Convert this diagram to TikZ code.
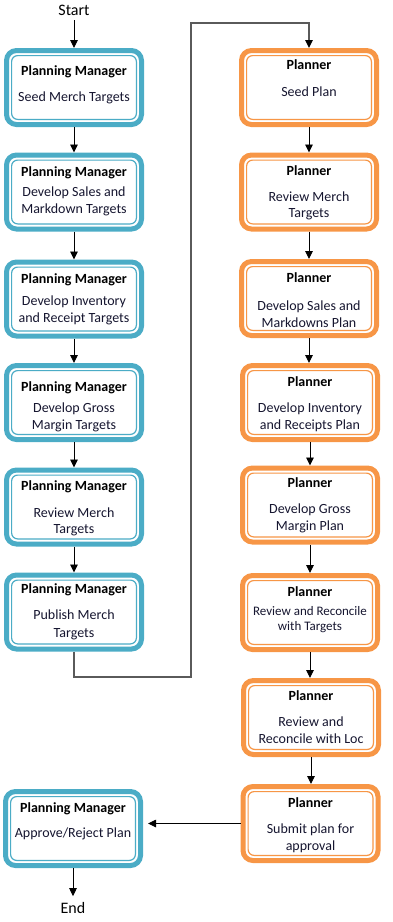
\documentclass[tikz,border=0pt]{standalone}
\usepackage{fontspec}
\setmainfont{Carlito}
\usetikzlibrary{arrows.meta}
\definecolor{pmblue}{HTML}{4BACC6}
\definecolor{plorange}{HTML}{F79646}
\definecolor{bodytxt}{RGB}{22,22,48}
\definecolor{conngray}{HTML}{5A5A5A}
\newcommand\innerline[2]{\draw[#2, line width=1.2pt, rounded corners=6pt] ([shift={(7.6pt,-7.6pt)}]#1.north west) rectangle ([shift={(-7.6pt,7.6pt)}]#1.south east);}
\tikzset{
  boxbase/.style={rectangle, line width=5pt, rounded corners=10pt, minimum width=135pt, minimum height=74pt, inner sep=0pt, outer sep=2.5pt, fill=white},
  lbox/.style={boxbase, draw=pmblue},
  rbox/.style={boxbase, draw=plorange},
  ttl/.style={anchor=base, inner sep=0pt, font=\fontsize{14}{17}\selectfont\bfseries, text=black},
  bd/.style={anchor=base, inner sep=0pt, font=\fontsize{14}{17}\selectfont, text=bodytxt},
  bds/.style={anchor=base, inner sep=0pt, font=\fontsize{13}{15}\selectfont, text=bodytxt},
  term/.style={inner sep=2pt, font=\fontsize{16}{19}\selectfont, text=black},
  arr/.style={draw=black, line width=0.9pt, -{Triangle[length=8pt,width=7.5pt]}},
  garr/.style={draw=conngray, line width=1.3pt, -{Triangle[length=8pt,width=7.5pt,fill=black,color=black]}}
}
\begin{document}
\begin{tikzpicture}[x=1pt,y=-1pt]
\useasboundingbox (0,0) rectangle (393,922);
% terminals
\node[term] (start) at (74,10) {Start};
\node[term] (end) at (73,908) {End};
% left column boxes
\node[lbox] (L1) at (74,87.5) {}; \innerline{L1}{pmblue}
\node[lbox] (L2) at (74,192) {}; \innerline{L2}{pmblue}
\node[lbox] (L3) at (74,299) {}; \innerline{L3}{pmblue}
\node[lbox] (L4) at (74,402.5) {}; \innerline{L4}{pmblue}
\node[lbox] (L5) at (74,507) {}; \innerline{L5}{pmblue}
\node[lbox] (L6) at (74,612) {}; \innerline{L6}{pmblue}
\node[lbox] (LF) at (73,828.5) {}; \innerline{LF}{pmblue}
% right column boxes
\node[rbox] (R1) at (309,87.5) {}; \innerline{R1}{plorange}
\node[rbox] (R2) at (309,192) {}; \innerline{R2}{plorange}
\node[rbox] (R3) at (309,298.5) {}; \innerline{R3}{plorange}
\node[rbox] (R4) at (310,402.5) {}; \innerline{R4}{plorange}
\node[rbox] (R5) at (310,505) {}; \innerline{R5}{plorange}
\node[rbox] (R6) at (310,612.5) {}; \innerline{R6}{plorange}
\node[rbox] (R7) at (311,717.5) {}; \innerline{R7}{plorange}
\node[rbox] (R8) at (310.5,823.5) {}; \innerline{R8}{plorange}
% left texts
\node[ttl] (L1t) at (74,75.5) {Planning Manager};
\node[bd] (L1a) at (74,101.5) {Seed Merch Targets};
\node[ttl] (L2t) at (74,176.5) {Planning Manager};
\node[bd] (L2a) at (74,196.5) {Develop Sales and};
\node[bd] (L2b) at (74,213.5) {Markdown Targets};
\node[ttl] (L3t) at (74,283.5) {Planning Manager};
\node[bd] (L3a) at (74,305.5) {Develop Inventory};
\node[bd] (L3b) at (74,322.5) {and Receipt Targets};
\node[ttl] (L4t) at (74,391.5) {Planning Manager};
\node[bd] (L4a) at (74,412.5) {Develop Gross};
\node[bd] (L4b) at (74,429.5) {Margin Targets};
\node[ttl] (L5t) at (74,490.5) {Planning Manager};
\node[bd] (L5a) at (74,517.5) {Review Merch};
\node[bd] (L5b) at (74,533.5) {Targets};
\node[ttl] (L6t) at (74,593.5) {Planning Manager};
\node[bd] (L6a) at (74,619.5) {Publish Merch};
\node[bd] (L6b) at (74,637.5) {Targets};
\node[ttl] (LFt) at (73,812.5) {Planning Manager};
\node[bd] (LFa) at (73,837.5) {Approve/Reject Plan};
% right texts
\node[ttl] (R1t) at (309,69.5) {Planner};
\node[bd] (R1a) at (309,96.5) {Seed Plan};
\node[ttl] (R2t) at (309,175.5) {Planner};
\node[bd] (R2a) at (309,201.5) {Review Merch};
\node[bd] (R2b) at (309,217.5) {Targets};
\node[ttl] (R3t) at (309,282.5) {Planner};
\node[bd] (R3a) at (309,310.5) {Develop Sales and};
\node[bd] (R3b) at (309,327.5) {Markdowns Plan};
\node[ttl] (R4t) at (310,386.5) {Planner};
\node[bd] (R4a) at (310,412.5) {Develop Inventory};
\node[bd] (R4b) at (310,429.5) {and Receipts Plan};
\node[ttl] (R5t) at (310,487.5) {Planner};
\node[bd] (R5a) at (310,513.5) {Develop Gross};
\node[bd] (R5b) at (310,530.5) {Margin Plan};
\node[ttl] (R6t) at (310,596.5) {Planner};
\node[bds] (R6a) at (310,615) {Review and Reconcile};
\node[bds] (R6b) at (310,630) {with Targets};
\node[ttl] (R7t) at (311,700.5) {Planner};
\node[bd] (R7a) at (311,726.5) {Review and};
\node[bd] (R7b) at (311,743.5) {Reconcile with Loc};
\node[ttl] (R8t) at (310.5,807.5) {Planner};
\node[bd] (R8a) at (310.5,833.5) {Submit plan for};
\node[bd] (R8b) at (310.5,850.5) {approval};
% connectors
\coordinate (c1) at (191,677);
\coordinate (c2) at (191,23);
\draw[arr, shorten <=3pt] (start) -- (L1);
\draw[arr] (L1) -- (L2);
\draw[arr] (L2) -- (L3);
\draw[arr] (L3) -- (L4);
\draw[arr] (L4) -- (L5);
\draw[arr] (L5) -- (L6);
\draw[garr] (L6.south) |- (c1) -- (c2) -| (R1.north);
\draw[arr] (R1.south) -- (R1.south |- R2.north);
\draw[arr] (R2.south) -- (R2.south |- R3.north);
\draw[arr] (R3.south) -- (R3.south |- R4.north);
\draw[arr] (R4.south) -- (R4.south |- R5.north);
\draw[arr] (R5.south) -- (R5.south |- R6.north);
\draw[arr] (R6.south) -- (R6.south |- R7.north);
\draw[arr] (R7.south) -- (R7.south |- R8.north);
\draw[arr, shorten >=5pt] (R8.west) -- (R8.west -| LF.east);
\draw[arr, shorten >=4pt] (LF) -- (end);
\end{tikzpicture}
\end{document}
